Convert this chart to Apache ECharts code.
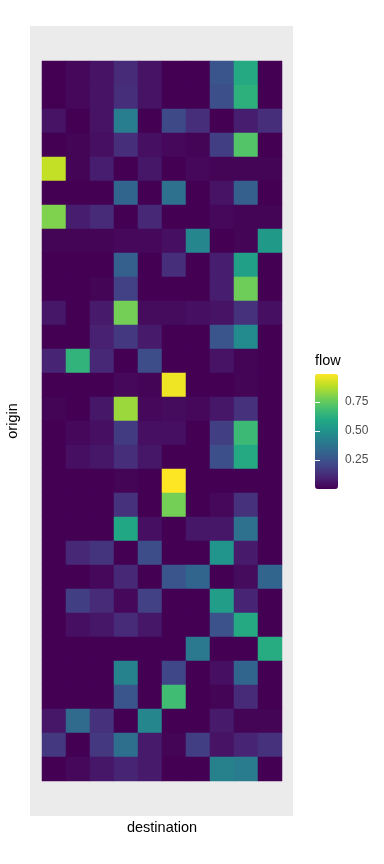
<!DOCTYPE html>
<html>
<head>
<meta charset="utf-8">
<script src="https://cdn.jsdelivr.net/npm/echarts@6/dist/echarts.min.js"></script>
<style>html,body{margin:0;padding:0;background:#fff}#c{width:384px;height:864px}</style>
</head>
<body>
<div id="c"></div>
<script>
// destinations (columns) and origins (rows, top to bottom)
var destinations = ['1','2','3','4','5','6','7','8','9','10'];
var origins = [];
for (var i = 1; i <= 30; i++) origins.push(String(i));

// flow values, one row per origin (top to bottom), one entry per destination
var row01 = [0.00,0.02,0.05,0.12,0.05,0.00,0.00,0.26,0.60,0.00];
var row02 = [0.00,0.02,0.05,0.13,0.05,0.00,0.00,0.24,0.63,0.00];
var row03 = [0.05,0.00,0.05,0.42,0.00,0.22,0.13,0.00,0.08,0.13];
var row04 = [0.00,0.01,0.04,0.13,0.04,0.02,0.01,0.18,0.72,0.00];
var row05 = [0.90,0.01,0.08,0.00,0.06,0.00,0.02,0.01,0.01,0.01];
var row06 = [0.00,0.00,0.00,0.32,0.00,0.37,0.00,0.05,0.30,0.00];
var row07 = [0.80,0.08,0.12,0.00,0.11,0.00,0.00,0.02,0.01,0.01];
var row08 = [0.01,0.01,0.01,0.02,0.02,0.04,0.45,0.00,0.01,0.53];
var row09 = [0.00,0.00,0.00,0.30,0.00,0.13,0.00,0.08,0.56,0.00];
var row10 = [0.00,0.00,0.01,0.19,0.00,0.00,0.00,0.08,0.77,0.00];
var row11 = [0.06,0.00,0.07,0.78,0.03,0.03,0.04,0.05,0.14,0.04];
var row12 = [0.00,0.00,0.09,0.16,0.07,0.00,0.00,0.26,0.47,0.00];
var row13 = [0.10,0.64,0.11,0.00,0.23,0.00,0.00,0.05,0.01,0.00];
var row14 = [0.00,0.00,0.00,0.02,0.01,0.97,0.00,0.00,0.01,0.00];
var row15 = [0.01,0.00,0.06,0.84,0.02,0.03,0.02,0.06,0.14,0.00];
var row16 = [0.00,0.02,0.04,0.17,0.04,0.04,0.00,0.18,0.67,0.00];
var row17 = [0.00,0.04,0.06,0.13,0.06,0.00,0.00,0.24,0.60,0.00];
var row18 = [0.00,0.00,0.00,0.01,0.00,0.99,0.00,0.00,0.00,0.00];
var row19 = [0.00,0.00,0.00,0.14,0.00,0.78,0.00,0.02,0.14,0.00];
var row20 = [0.00,0.00,0.00,0.59,0.04,0.00,0.06,0.06,0.37,0.00];
var row21 = [0.00,0.11,0.15,0.00,0.23,0.00,0.00,0.51,0.07,0.00];
var row22 = [0.00,0.00,0.02,0.11,0.00,0.26,0.32,0.00,0.03,0.32];
var row23 = [0.00,0.18,0.12,0.02,0.19,0.00,0.00,0.55,0.10,0.00];
var row24 = [0.00,0.04,0.06,0.12,0.06,0.00,0.00,0.25,0.60,0.00];
var row25 = [0.00,0.00,0.00,0.00,0.00,0.00,0.40,0.00,0.00,0.61];
var row26 = [0.00,0.00,0.00,0.44,0.00,0.21,0.00,0.04,0.32,0.00];
var row27 = [0.00,0.00,0.00,0.26,0.00,0.68,0.00,0.01,0.12,0.00];
var row28 = [0.06,0.34,0.14,0.00,0.45,0.00,0.00,0.07,0.01,0.01];
var row29 = [0.16,0.00,0.16,0.36,0.07,0.01,0.18,0.05,0.10,0.14];
var row30 = [0.00,0.02,0.06,0.10,0.07,0.00,0.00,0.43,0.41,0.00];

var flowRows = [row01,row02,row03,row04,row05,row06,row07,row08,row09,row10,
  row11,row12,row13,row14,row15,row16,row17,row18,row19,row20,
  row21,row22,row23,row24,row25,row26,row27,row28,row29,row30];

var flowMin = 0;
var flowMax = 0.99;
var legendBreaks = [0.25, 0.5, 0.75];
var viridis = ['#440154','#482475','#414487','#355F8D','#2A788E','#21918C','#22A884','#44BF70','#7AD151','#BDDF26','#FDE725'];

var data = [];
flowRows.forEach(function (row, r) {
  row.forEach(function (v, c) { data.push([c, r, v]); });
});

var chart = echarts.init(document.getElementById('c'), null, {renderer: 'canvas'});
var font = 'Liberation Sans, Arial, Helvetica, sans-serif';
chart.setOption({
  animation: false,
  backgroundColor: '#FFFFFF',
  textStyle: {fontFamily: font},
  graphic: [{
    type: 'rect', left: 30, top: 26, z: -10,
    shape: {width: 263, height: 790},
    style: {fill: '#EBEBEB'}
  }, {
    type: 'text', left: 315, top: 353, z: 10,
    style: {text: 'flow', fill: '#000000', font: '14.5px ' + font}
  }],
  grid: [
    {left: 42, top: 61, width: 240, height: 720, outerBoundsMode: 'none', containLabel: false},
    {left: 315, top: 374, width: 23, height: 115, outerBoundsMode: 'none', containLabel: false}
  ],
  xAxis: [{
    type: 'category', data: destinations, gridIndex: 0,
    name: 'destination', nameLocation: 'middle', nameGap: 39,
    nameTextStyle: {fontSize: 14.5, color: '#000000', fontFamily: font},
    axisLine: {show: false}, axisTick: {show: false}, axisLabel: {show: false},
    splitLine: {show: false}
  }, {
    type: 'value', gridIndex: 1, show: false
  }],
  yAxis: [{
    type: 'category', data: origins, gridIndex: 0, inverse: true,
    name: 'origin', nameLocation: 'middle', nameGap: 22, nameRotate: 90,
    nameTextStyle: {fontSize: 14.5, color: '#000000', fontFamily: font},
    axisLine: {show: false}, axisTick: {show: false}, axisLabel: {show: false},
    splitLine: {show: false}
  }, {
    type: 'value', gridIndex: 1, position: 'right', min: flowMin, max: flowMax, z: 10,
    axisLine: {show: false}, splitLine: {show: false},
    axisTick: {show: true, inside: true, length: 5, customValues: legendBreaks, lineStyle: {color: '#FFFFFF', width: 1}},
    axisLabel: {show: true, customValues: legendBreaks, margin: 7, color: '#4D4D4D', fontSize: 12, fontFamily: font,
      formatter: function (v) { return v.toFixed(2); }}
  }, {
    type: 'value', gridIndex: 1, position: 'left', min: flowMin, max: flowMax, z: 10,
    axisLine: {show: false}, splitLine: {show: false}, axisLabel: {show: false},
    axisTick: {show: true, inside: true, length: 5, customValues: legendBreaks, lineStyle: {color: '#FFFFFF', width: 1}}
  }],
  visualMap: {
    type: 'continuous', min: flowMin, max: flowMax, seriesIndex: 0,
    calculable: false, orient: 'vertical', left: 315, top: 374, padding: 0,
    itemWidth: 23, itemHeight: 115, text: null, showLabel: false,
    inRange: {color: viridis}
  },
  series: [{
    type: 'heatmap', xAxisIndex: 0, yAxisIndex: 0, data: data,
    itemStyle: {borderWidth: 0},
    emphasis: {disabled: true}
  }]
});
</script>
</body>
</html>
